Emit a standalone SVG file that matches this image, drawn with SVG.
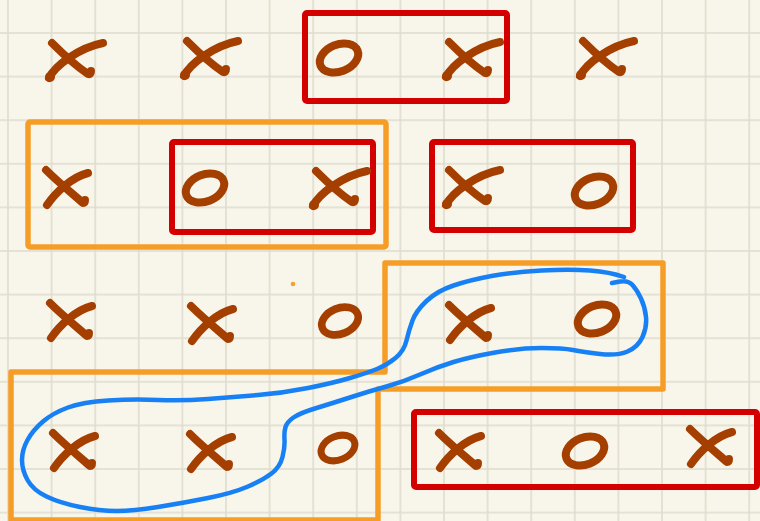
<svg xmlns="http://www.w3.org/2000/svg" xmlns:xlink="http://www.w3.org/1999/xlink" width="760" height="521" viewBox="0 0 760 521">
<style>
.ink{fill:none;stroke:#a53f00;stroke-width:8;stroke-linecap:round;stroke-linejoin:round}
.red{fill:none;stroke:#d40000;stroke-width:6;stroke-linejoin:round}
.org{fill:none;stroke:#f59d27;stroke-width:5.5;stroke-linejoin:round}
.blue{fill:none;stroke:#1780f4;stroke-width:4.5;stroke-linecap:round;stroke-linejoin:round}
</style>
<defs>
<pattern id="grid" patternUnits="userSpaceOnUse" x="-13.8" y="11.2" width="43.6" height="43.6">
<path d="M21.8 0V43.6M0 21.8H43.6" stroke="#dedbcd" stroke-width="1.5" fill="none"/>
</pattern>
<g id="xA">
<path class="ink" d="M-24 18C-18 6 5-12 30-17"/>
<path class="ink" d="M-21-17C-10-6 6 8 15 14Q18 15 18 11"/>
<circle cx="-23" cy="17" r="5" fill="#a53f00"/>
</g>
<g id="xB">
<path class="ink" d="M-19 18C-10 5 6-10 22-14"/>
<path class="ink" d="M-20-17C-8-5 8 8 17 16Q19 16 19 13"/>
</g>
<ellipse id="o" class="ink" cx="0" cy="0" rx="20" ry="13.5" transform="rotate(-22)"/>
</defs>
<rect width="760" height="521" fill="#f8f5ea"/>
<rect width="760" height="521" fill="url(#grid)"/>
<circle cx="293" cy="284" r="2.3" fill="#f5a030"/>

<g id="boxes">
<path id="orange-union" class="org" d="M11 520V372H385V263H663V389H378V520Z"/>
<rect id="orange-1" class="org" x="28" y="122" width="358" height="125" rx="2"/>
<rect id="red-1" class="red" x="305" y="13" width="202" height="88" rx="2"/>
<rect id="red-2" class="red" x="172" y="142" width="201" height="90" rx="2"/>
<rect id="red-3" class="red" x="432" y="142" width="201" height="88" rx="2"/>
<rect id="red-4" class="red" x="414" y="412" width="343" height="75" rx="2"/>
</g>

<g id="connectors">
<path class="blue" d="M612 283L620 281.5Q628 280 632.5 285Q637 290 641 298.5Q645 307 646 317Q647 327 642.5 337Q638 347 627.5 351.5Q617 356 600 354Q583 352 573 350Q563 348 541.5 348Q520 348 495 352.5Q470 357 453.5 362Q437 367 420 374.5Q403 382 386.5 386.5Q370 391 351.5 397Q333 403 316.5 408Q300 413 293.5 417.5Q287 422 285.5 427Q284 432 284.5 439.5Q285 447 282.5 457Q280 467 271.5 473.5Q263 480 248 486.5Q233 493 208 498Q183 503 158 507Q133 511 116.5 511Q100 511 80 507Q60 503 46.5 496.5Q33 490 27.5 480Q22 470 22 460Q22 450 27.5 440Q33 430 43 421.5Q53 413 68 407.5Q83 402 108 400.5Q133 399 158 400Q183 401 208 399Q233 397 258 395Q283 393 308 388Q333 383 350 378Q367 373 377 369Q387 365 395.5 358Q404 351 406.5 340.5Q409 330 412.5 320.5Q416 311 426.5 301Q437 291 453.5 285.5Q470 280 491.5 276Q513 272 541.5 270.5Q570 269 590 270.5Q610 272 624 277"/>
</g>

<g id="row1">
<use id="r1c1" xlink:href="#xA" transform="translate(73,60)"/>
<use id="r1c2" xlink:href="#xA" transform="translate(208,58)"/>
<use id="r1c3" xlink:href="#o" transform="translate(339,58)"/>
<use id="r1c4" xlink:href="#xA" transform="translate(470,59)"/>
<use id="r1c5" xlink:href="#xA" transform="translate(604,58)"/>
</g>
<g id="row2">
<use id="r2c1" xlink:href="#xB" transform="translate(66,187)"/>
<use id="r2c2" xlink:href="#o" transform="translate(205,188)"/>
<use id="r2c3" xlink:href="#xA" transform="translate(337,188)"/>
<use id="r2c4" xlink:href="#xA" transform="translate(470,187)"/>
<use id="r2c5" xlink:href="#o" transform="translate(594,191)"/>
</g>
<g id="row3">
<use id="r3c1" xlink:href="#xB" transform="translate(70,320)"/>
<use id="r3c2" xlink:href="#xB" transform="translate(211,323)"/>
<use id="r3c3" xlink:href="#o" transform="translate(340,321) scale(0.95)"/>
<use id="r3c4" xlink:href="#xB" transform="translate(469,322)"/>
<use id="r3c5" xlink:href="#o" transform="translate(597,319)"/>
</g>
<g id="row4">
<use id="r4c1" xlink:href="#xB" transform="translate(73,450)"/>
<use id="r4c2" xlink:href="#xB" transform="translate(210,451)"/>
<use id="r4c3" xlink:href="#o" transform="translate(338,448) scale(0.88)"/>
<use id="r4c4" xlink:href="#xB" transform="translate(459,450)"/>
<use id="r4c5" xlink:href="#o" transform="translate(585,451)"/>
<use id="r4c6" xlink:href="#xB" transform="translate(710,446)"/>
</g>
</svg>
